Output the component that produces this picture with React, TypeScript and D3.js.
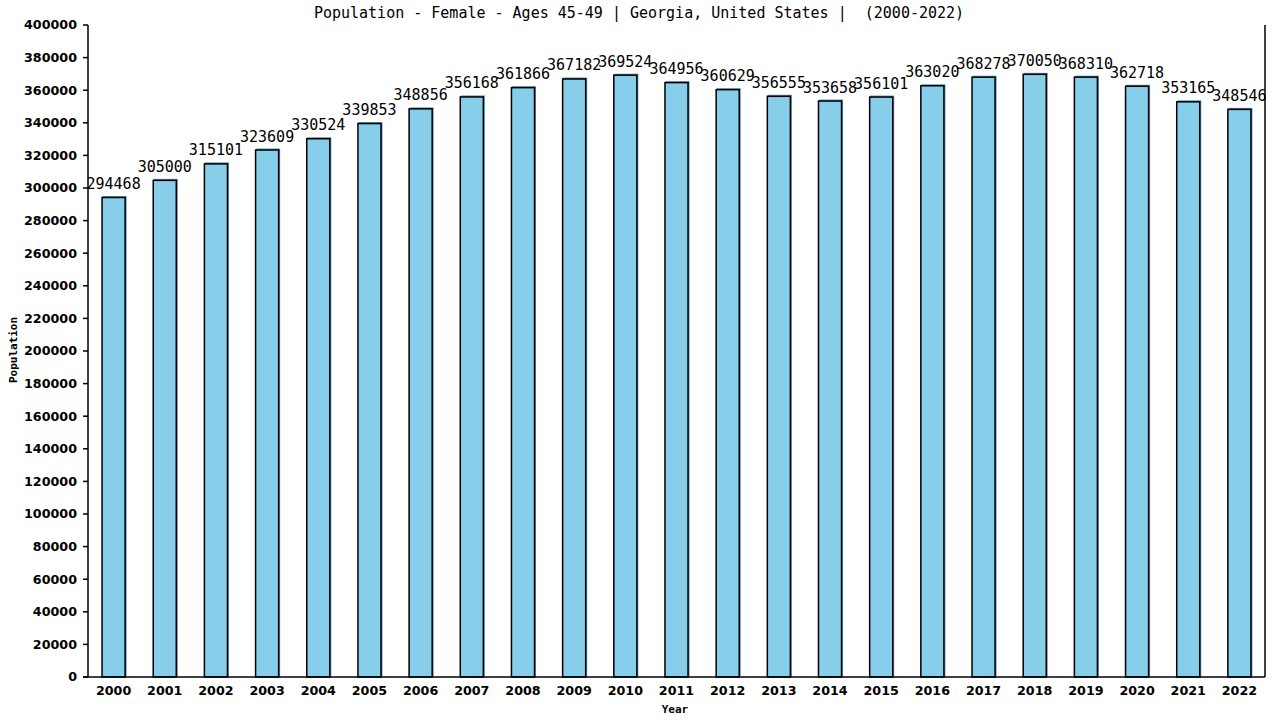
import * as d3 from 'd3';
import React from 'react';

const years = [
  '2000', '2001', '2002', '2003', '2004', '2005', '2006', '2007', '2008', '2009', '2010', '2011',
  '2012', '2013', '2014', '2015', '2016', '2017', '2018', '2019', '2020', '2021', '2022',
];

const population = [
  294468, 305000, 315101, 323609, 330524, 339853, 348856, 356168, 361866, 367182, 369524, 364956,
  360629, 356555, 353658, 356101, 363020, 368278, 370050, 368310, 362718, 353165, 348546,
];

const yTicks = d3.range(0, 400001, 20000);

const title = 'Population - Female - Ages 45-49 | Georgia, United States |  (2000-2022)';

const margin = { top: 25, right: 15, bottom: 43, left: 88 };
const W = 1280;
const H = 720;

const App: React.FC = () => {
  const x = d3
    .scaleBand<string>()
    .domain(years)
    .range([margin.left, W - margin.right])
    .paddingInner(0.53)
    .paddingOuter(0.265);

  const y = d3.scaleLinear().domain([0, 400000]).range([H - margin.bottom, margin.top]);

  const bottom = H - margin.bottom;
  const right = W - margin.right;

  return (
    <svg
      width={W}
      height={H}
      style={{ position: 'absolute', left: 0, top: 0, background: '#fff' }}
    >
      <text
        x={639}
        y={18}
        textAnchor="middle"
        fontFamily="DejaVu Sans Mono"
        fontSize={15}
        fill="#000"
        style={{ whiteSpace: 'pre' }}
      >
        {title}
      </text>

      {/* bars */}
      {years.map((yr, i) => {
        const bx = x(yr)!;
        const by = y(population[i]);
        return (
          <g key={yr}>
            <rect
              x={bx + 1}
              y={by - 1}
              width={x.bandwidth()}
              height={bottom - by + 1}
              fill="#5a90b4"
            />
            <rect
              x={bx + 0.5}
              y={by + 0.5}
              width={x.bandwidth() - 1}
              height={bottom - by - 0.5}
              fill="#87ceeb"
              stroke="#000"
              strokeWidth={1.5}
            />
          </g>
        );
      })}

      {/* value labels */}
      {years.map((yr, i) => (
        <text
          key={'v' + yr}
          x={x(yr)! + x.bandwidth() / 2}
          y={y(population[i]) - 8}
          textAnchor="middle"
          fontFamily="DejaVu Sans Mono"
          fontSize={15}
          fill="#000"
        >
          {population[i]}
        </text>
      ))}

      {/* axes */}
      <line x1={margin.left} x2={margin.left} y1={margin.top} y2={bottom} stroke="#000" strokeWidth={1.5} />
      <line x1={right} x2={right} y1={margin.top} y2={bottom} stroke="#000" strokeWidth={1.5} />
      <line x1={margin.left - 5} x2={right} y1={bottom} y2={bottom} stroke="#000" strokeWidth={1.5} />

      {yTicks.map((t) => (
        <g key={'t' + t}>
          <line x1={margin.left - 5} x2={margin.left} y1={y(t)} y2={y(t)} stroke="#000" strokeWidth={1.5} />
          <text
            x={margin.left - 11}
            y={y(t)}
            dy="0.35em"
            textAnchor="end"
            fontFamily="DejaVu Sans"
            fontWeight="bold"
            fontSize={12.7}
            fill="#000"
          >
            {t}
          </text>
        </g>
      ))}

      {years.map((yr) => (
        <text
          key={'x' + yr}
          x={x(yr)! + x.bandwidth() / 2}
          y={695}
          textAnchor="middle"
          fontFamily="DejaVu Sans"
          fontWeight="bold"
          fontSize={12.7}
          fill="#000"
        >
          {yr}
        </text>
      ))}

      <text
        x={675}
        y={713}
        textAnchor="middle"
        fontFamily="DejaVu Sans Mono"
        fontWeight="bold"
        fontSize={11}
        fill="#000"
      >
        Year
      </text>
      <text
        transform="translate(17,350) rotate(-90)"
        textAnchor="middle"
        fontFamily="DejaVu Sans Mono"
        fontWeight="bold"
        fontSize={11}
        fill="#000"
      >
        Population
      </text>
    </svg>
  );
};

export default App;
